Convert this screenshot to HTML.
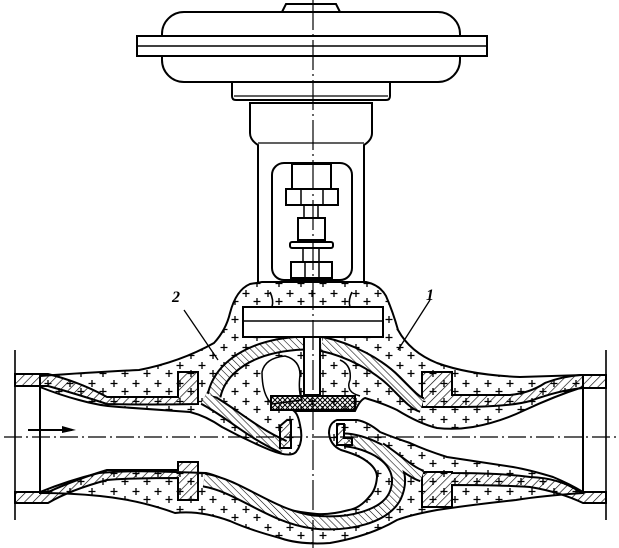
<!DOCTYPE html>
<html><head><meta charset="utf-8"><style>
html,body{margin:0;padding:0;background:#fff;}
svg{display:block;}
</style></head><body>
<svg width="619" height="548" viewBox="0 0 619 548" xmlns="http://www.w3.org/2000/svg">
<defs>
<pattern id="h" width="6" height="6" patternUnits="userSpaceOnUse" patternTransform="rotate(45)"><line x1="0" y1="0" x2="0" y2="6" stroke="#000" stroke-width="1.3"/></pattern>
<pattern id="h2" width="5" height="5" patternUnits="userSpaceOnUse" patternTransform="rotate(-45)"><rect width="5" height="5" fill="#fff"/><line x1="0" y1="0" x2="0" y2="5" stroke="#000" stroke-width="1.1"/></pattern>
<pattern id="x" width="5" height="5" patternUnits="userSpaceOnUse"><path d="M0 0L5 5M5 0L0 5" stroke="#000" stroke-width="1"/></pattern>
<pattern id="c" width="22" height="18" patternUnits="userSpaceOnUse"><rect width="22" height="18" fill="#fff"/><path d="M4 2v7M0.5 5.5h7M15 10v7M11.5 13.5h7" stroke="#000" stroke-width="1.3"/></pattern>
</defs>
<g fill="none" stroke="#000" stroke-width="2">
<!-- actuator -->
<path d="M282 12 L286 4 H336 L340 12" />
<rect x="162" y="12" width="298" height="70" rx="22" fill="#fff"/>
<rect x="137" y="36" width="350" height="20" fill="#fff"/>
<line x1="137" y1="46" x2="487" y2="46" stroke-width="1.5"/>
<path d="M232 82 V96 Q232 100 236 100 H386 Q390 100 390 96 V82"/>
<line x1="234" y1="96" x2="388" y2="96" stroke-width="1.2"/>
<path d="M250 103 H372 V133 Q372 140 364 145 V282 Q364 292 352 292 H270 Q258 292 258 282 V145 Q250 140 250 133 Z" fill="#fff"/>
<line x1="258" y1="143" x2="364" y2="143" stroke-width="1.2"/>
<rect x="272" y="163" width="80" height="117" rx="12"/>
<rect x="292" y="164" width="39" height="25"/>
<rect x="286" y="189" width="52" height="16"/>
<line x1="301" y1="189" x2="301" y2="205" stroke-width="1.5"/><line x1="323" y1="189" x2="323" y2="205" stroke-width="1.5"/>
<rect x="304" y="205" width="14" height="13" stroke-width="1.5"/>
<rect x="298" y="218" width="27" height="22"/>
<rect x="290" y="242" width="43" height="6" rx="2"/>
<rect x="303" y="248" width="16" height="14" stroke-width="1.5"/>
<rect x="291" y="262" width="41" height="16"/>
<line x1="305" y1="262" x2="305" y2="278" stroke-width="1.5"/><line x1="319" y1="262" x2="319" y2="278" stroke-width="1.5"/>

<!-- insulation body -->
<path d="M40 376 Q95 372 139 370 Q180 362 214 343 Q226 330 230 313 Q236 290 250 284 L262 282 H366 Q380 285 386 296 Q393 312 398 330 Q410 352 437 363 Q470 375 520 377 L583 375 V493 Q540 496 516 500 Q470 505 437 510 Q410 515 397 520 Q370 536 330 543 Q300 545 280 538 Q250 530 230 521 Q200 510 175 513 Q140 500 100 496 Q70 493 40 493 Z" fill="url(#c)"/>
<!-- bore (white) -->
<path d="M40 387 Q60 395 79 400 Q100 406 119 407 L190 412 Q206 416 222 427 Q246 440 270 450 Q290 458 296 452 Q304 442 300 425 Q298 414 294 411 L355 411 Q360 400 365 398 Q385 404 397 410 Q420 424 437 428 Q455 430 473 427 Q500 422 525 410 Q555 396 583 387 V492 Q570 484 553 477 Q530 470 513 467 Q480 462 447 457 Q425 450 410 443 Q392 437 380 432 Q368 422 357 420 L337 420 Q329 423 329 433 Q330 445 341 450 Q358 455 365 460 Q377 468 377 477 Q376 490 369 497 Q360 508 349 510 Q330 515 317 514 Q295 512 278 507 Q255 497 238 487 Q220 476 206 473 L175 472 Q130 470 99 473 Q70 480 40 492 Z" fill="#fff"/>
<!-- interior white pocket -->
<path d="M262 372 Q265 358 285 356 Q300 360 300 375 Q298 392 302 400 L272 404 Q262 395 262 372 Z" fill="#fff" stroke-width="1.5"/>
<path d="M340 360 Q352 365 350 380 Q345 392 360 396" stroke-width="1.5"/>
<!-- hatched pipe walls -->
<path d="M15 374 H48 Q80 382 107 397 H178 V372 H198 V404 Q150 405 107 404 Q80 395 48 386 H15 Z" fill="url(#h)"/>
<path d="M15 492 H48 Q80 478 107 470 H178 V462 H198 V500 H178 V478 Q130 478 107 480 Q70 490 48 503 H15 Z" fill="url(#h)"/>
<path d="M606 375 H580 Q560 377 545 383 Q530 393 510 395 L452 395 V372 H422 V407 H452 Q510 407 530 401 Q560 390 583 388 H606 Z" fill="url(#h)"/>
<path d="M606 492 H580 Q560 478 530 477 Q500 473 452 473 V472 H422 V507 H452 V485 Q500 485 530 487 Q560 492 583 503 H606 Z" fill="url(#h)"/>
</g>
<!-- hatched bands: black outline then hatch -->
<g fill="none" stroke-linecap="butt">
<path d="M204 398 C228 410 250 432 284 447" stroke="#000" stroke-width="15"/>
<path d="M214 396 C220 368 250 345 304 343" stroke="#000" stroke-width="15"/>
<path d="M322 344 C350 350 378 365 395 382 C408 395 415 403 422 405" stroke="#000" stroke-width="16"/>
<path d="M204 480 C240 486 270 516 313 522 C350 526 385 516 395 496 C404 476 395 460 378 450 C365 443 352 440 344 440" stroke="#000" stroke-width="15"/>
<path d="M380 448 C398 460 410 472 422 476" stroke="#000" stroke-width="13"/>
<path d="M204 398 C228 410 250 432 284 447" stroke="url(#h2)" stroke-width="11"/>
<path d="M214 396 C220 368 250 345 304 343" stroke="url(#h2)" stroke-width="11"/>
<path d="M322 344 C350 350 378 365 395 382 C408 395 415 403 422 405" stroke="url(#h2)" stroke-width="12"/>
<path d="M204 480 C240 486 270 516 313 522 C350 526 385 516 395 496 C404 476 395 460 378 450 C365 443 352 440 344 440" stroke="url(#h2)" stroke-width="11"/>
<path d="M380 448 C398 460 410 472 422 476" stroke="url(#h2)" stroke-width="9"/>
</g>
<g fill="none" stroke="#000" stroke-width="2">
<!-- seats -->
<path d="M280 448 V426 L287 420 H291 V448 Z" fill="url(#h)"/>
<path d="M337 424 H344 V438 H352 V445 H337 Z" fill="url(#h)"/>
<!-- bonnet plate -->
<rect x="243" y="307" width="140" height="30" fill="#fff"/>
<line x1="243" y1="321" x2="383" y2="321" stroke-width="1.6"/>
<path d="M270 292 Q274 300 272 307 M352 292 Q348 300 350 307" stroke-width="1.6"/>
<!-- stem & disc -->
<rect x="304" y="337" width="16" height="58" fill="#fff"/>
<rect x="271" y="396" width="84" height="14" fill="url(#x)"/>
<!-- pipe ends -->
<path d="M15 350 V520 M40 388 V490 M583 386 V492 M606 350 V520" stroke-width="1.6"/>
</g>
<!-- center lines -->
<line x1="4" y1="437" x2="617" y2="437" stroke="#000" stroke-width="1.2" stroke-dasharray="18 4 2 4"/>
<line x1="313" y1="0" x2="313" y2="548" stroke="#000" stroke-width="1.2" stroke-dasharray="30 4 2 4"/>
<!-- arrow -->
<line x1="28" y1="430" x2="72" y2="430" stroke="#000" stroke-width="2"/>
<path d="M62 426 L76 430 L62 433 Z" fill="#000"/>
<!-- leaders -->
<line x1="184" y1="310" x2="218" y2="360" stroke="#000" stroke-width="1.3"/>
<line x1="430" y1="300" x2="398" y2="350" stroke="#000" stroke-width="1.3"/>
<text x="172" y="302" font-family="Liberation Serif, serif" font-style="italic" font-size="16" font-weight="bold">2</text>
<text x="426" y="300" font-family="Liberation Serif, serif" font-style="italic" font-size="16" font-weight="bold">1</text>
</svg>
</body></html>
